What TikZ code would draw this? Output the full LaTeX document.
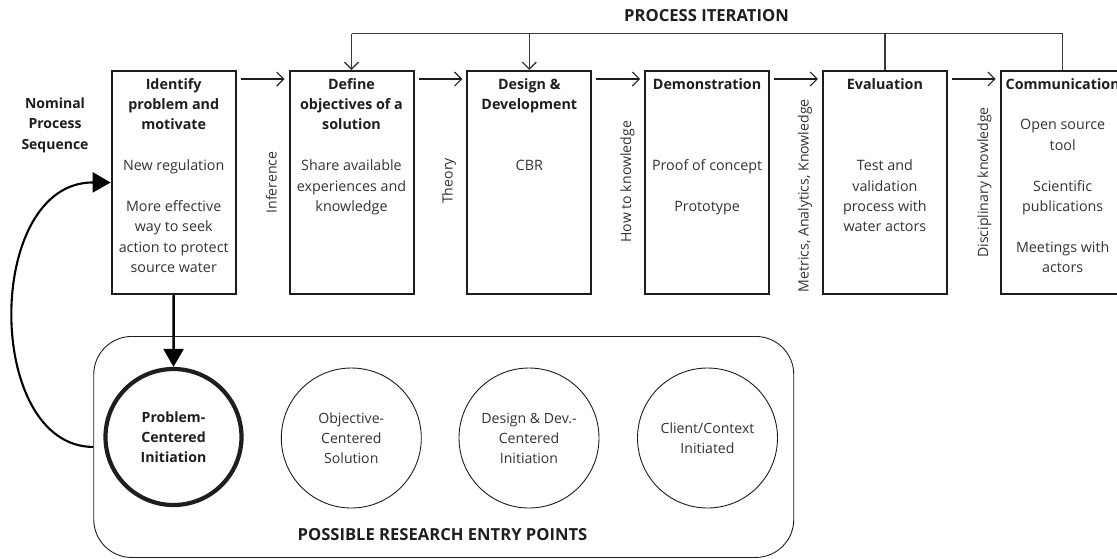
\documentclass[tikz,border=0pt]{standalone}
\usepackage{fontspec}
\setmainfont{Open Sans}
\usetikzlibrary{arrows.meta}
\definecolor{ink}{HTML}{1E1E1E}
\definecolor{txt}{HTML}{333333}
\definecolor{iter}{HTML}{3A3A3A}
\begin{document}
\begin{tikzpicture}[x=1pt,y=-1pt,
  every node/.style={inner sep=0pt},
  stagebox/.style={draw=ink, line width=2pt, minimum width=124pt, minimum height=223pt, anchor=north west},
  stagetext/.style={anchor=north, align=center, text=txt, font=\fontsize{14.3}{20.4}\selectfont},
  sidelabel/.style={rotate=90, text=txt, font=\fontsize{14.1}{16}\selectfont},
  heading/.style={align=center, text=ink, font=\fontsize{14}{20.4}\selectfont\bfseries},
  bigheading/.style={text=ink, font=\fontsize{16.6}{20}\selectfont\bfseries},
  flow/.style={draw=ink, line width=1.1pt, -{Straight Barb[length=7pt,width=14pt]}},
  iterline/.style={draw=iter, line width=1.3pt},
  entry/.style={circle, draw=ink, line width=0.9pt, minimum size=140pt, align=center, text=txt, font=\fontsize{14.1}{20}\selectfont},
  bold arrow/.style={draw=black, line width=2.4pt, -{Triangle[length=18pt,width=20pt]}}
]
\useasboundingbox (0,0) rectangle (1117,558);

% the six process stages
\node[stagebox] (b1) at (110.7,70) {};
\node[stagebox] (b2) at (288.5,70) {};
\node[stagebox] (b3) at (466.3,70) {};
\node[stagebox] (b4) at (644.1,70) {};
\node[stagebox] (b5) at (821.9,70) {};
\node[stagebox] (b6) at (999.7,70) {};

\node[stagetext] (t1) at ([yshift=-4.7pt]b1.north) {\strut\textbf{\color{ink}Identify}\\ \textbf{\color{ink}problem and}\\ \textbf{\color{ink}motivate}\\[20.4pt]
  New regulation\\[20.4pt] More effective\\ way to seek\\ action to protect\\ source water};
\node[stagetext] (t2) at ([yshift=-4.7pt]b2.north) {\strut\textbf{\color{ink}Define}\\ \textbf{\color{ink}objectives of a}\\ \textbf{\color{ink}solution}\\[20.4pt]
  Share available\\ experiences and\\ knowledge};
\node[stagetext] (t3) at ([yshift=-4.7pt]b3.north) {\strut\textbf{\color{ink}Design \&}\\ \textbf{\color{ink}Development}\\[40.8pt] CBR};
\node[stagetext] (t4) at ([yshift=-4.7pt]b4.north) {\strut\textbf{\color{ink}Demonstration}\\[61.2pt] Proof of concept\\[20.4pt] Prototype};
\node[stagetext] (t5) at ([yshift=-4.7pt]b5.north) {\strut\textbf{\color{ink}Evaluation}\\[61.2pt] Test and\\ validation\\ process with\\ water actors};
\node[stagetext] (t6) at ([yshift=-4.7pt]b6.north) {\strut\textbf{\color{ink}Communication}\\[20.4pt] Open source\\ tool\\[20.4pt] Scientific\\ publications\\[20.4pt] Meetings with\\ actors};

% sequence arrows between stages
\draw[flow] ([xshift=4pt,yshift=-9pt]b1.north east) -- ([xshift=-4pt,yshift=-9pt]b2.north west);
\draw[flow] ([xshift=4pt,yshift=-9pt]b2.north east) -- ([xshift=-4pt,yshift=-9pt]b3.north west);
\draw[flow] ([xshift=4pt,yshift=-9pt]b3.north east) -- ([xshift=-4pt,yshift=-9pt]b4.north west);
\draw[flow] ([xshift=4pt,yshift=-9pt]b4.north east) -- ([xshift=-4pt,yshift=-9pt]b5.north west);
\draw[flow] ([xshift=4pt,yshift=-9pt]b5.north east) -- ([xshift=-4pt,yshift=-9pt]b6.north west);

% knowledge labels between stages
\node[sidelabel] (l1) at (271.4,182.5) {Inference};
\node[sidelabel] (l2) at (449,181) {Theory};
\node[sidelabel] (l3) at (627.5,181.7) {How to knowledge};
\node[sidelabel] (l4) at (805,195.8) {Metrics, Analytics, Knowledge};
\node[sidelabel] (l5) at (984.5,182.5) {Disciplinary knowledge};

\node[heading] (nominal) at (55,125) {Nominal\\ Process\\ Sequence};

% process iteration loop
\node[bigheading] (iteration) at (706.5,15.7) {PROCESS ITERATION};
\coordinate (itop) at (0,33.7);
\draw[iterline] (b6.north) -- (b6.north |- itop) -- (b2.north |- itop);
\draw[iterline] (b5.north) -- (b5.north |- itop);
\draw[iterline, -{Straight Barb[length=7pt,width=14pt]}] (b2.north |- itop) -- (b2.north);
\draw[iterline, -{Straight Barb[length=7pt,width=14pt]}] (b3.north |- itop) -- (b3.north);

% research entry points
\node[draw=ink, line width=0.9pt, rounded corners=38pt, minimum width=700pt, minimum height=221pt, anchor=north west] (entries) at (93.3,336) {};
\node[entry, line width=4.2pt, minimum size=136pt, text=ink, font=\fontsize{14.1}{20}\selectfont\bfseries] (c1) at (173.5,437) {Problem-\\ Centered\\ Initiation};
\node[entry] (c2) at (351.3,438) {Objective-\\ Centered\\ Solution};
\node[entry] (c3) at (529,438) {Design \& Dev.-\\ Centered\\ Initiation};
\node[entry] (c4) at (707.5,438) {Client/Context\\ Initiated};
\node[bigheading] (possible) at (442.5,535) {POSSIBLE RESEARCH ENTRY POINTS};

\draw[bold arrow] (b1.south) -- (c1.north);
\draw[bold arrow, line width=2.1pt] (entries.west) .. controls (-16,446.5) and (-16,182) .. (b1.west);
\end{tikzpicture}
\end{document}
